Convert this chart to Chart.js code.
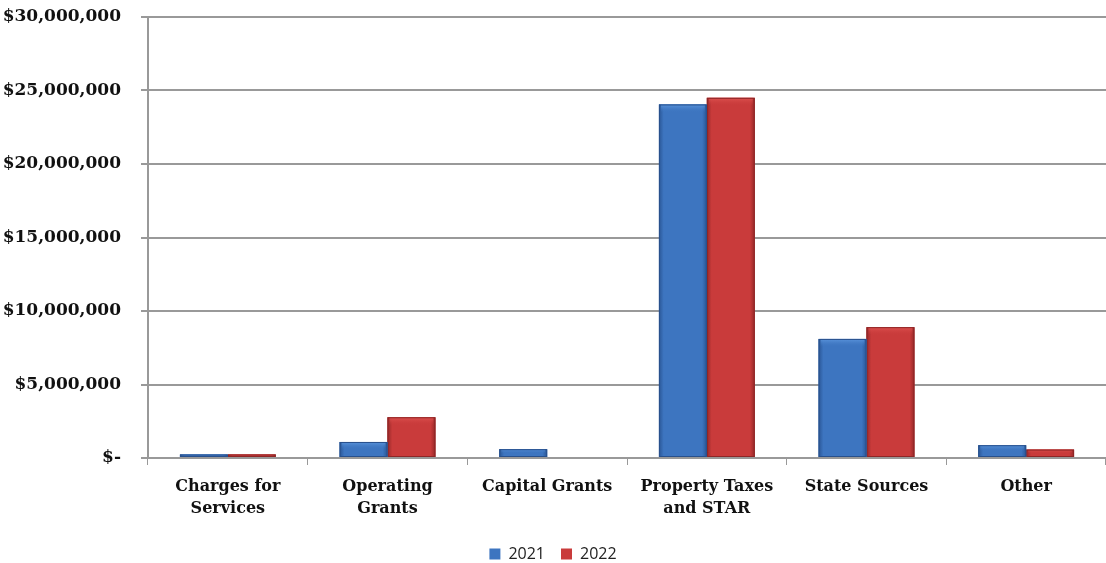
<!DOCTYPE html>
<html>
<head>
<meta charset="utf-8">
<script src="https://cdn.jsdelivr.net/npm/chart.js@4.4.1/dist/chart.umd.min.js"></script>
<style>
  html, body { margin: 0; padding: 0; background: #fff; }
  #wrap { width: 1106px; height: 563px; }
</style>
</head>
<body>
<div id="wrap"><canvas id="revChart"></canvas></div>
<script>
// Revenue by source, 2021 vs 2022
const categories = [
  ['Charges for', 'Services'],
  ['Operating', 'Grants'],
  'Capital Grants',
  ['Property Taxes', 'and STAR'],
  'State Sources',
  'Other'
];
const series2021 = [240000, 1090000, 600000, 24050000, 8100000, 870000];
const series2022 = [240000, 2770000, 0, 24500000, 8900000, 570000];
const yTicks = [0, 5000000, 10000000, 15000000, 20000000, 25000000, 30000000];

const shades = [
  { light: '#5b95dc', mid: '#3d75c0', dark: '#2a5696', edge: '#28508c' },
  { light: '#de5250', mid: '#c93b3b', dark: '#962828', edge: '#8e2626' }
];

function money(v) {
  if (v === 0) return '$-';
  return '$' + v.toLocaleString('en-US');
}

// repaint each bar the library laid out with a bevel-like gradient
const bevelBars = {
  id: 'bevelBars',
  afterDatasetDraw(chart, args) {
    const c = chart.ctx;
    const s = shades[args.index];
    const area = chart.chartArea;
    c.save();
    c.beginPath();
    c.rect(area.left, area.top, area.right - area.left, area.bottom - area.top);
    c.clip();
    args.meta.data.forEach(el => {
      const p = el.getProps(['x', 'y', 'base', 'width'], true);
      const h = p.base - p.y;
      if (h < 0.5) return;
      const x0 = p.x - p.width / 2;
      const g = c.createLinearGradient(x0, 0, x0 + p.width, 0);
      g.addColorStop(0, s.dark);
      g.addColorStop(0.1, s.mid);
      g.addColorStop(0.5, s.mid);
      g.addColorStop(0.9, s.mid);
      g.addColorStop(1, s.dark);
      c.fillStyle = g;
      c.fillRect(x0, p.y, p.width, h);
      // lighter top band
      const t = Math.min(8, h * 0.5);
      const gt = c.createLinearGradient(0, p.y, 0, p.y + t);
      gt.addColorStop(0, s.light);
      gt.addColorStop(1, s.mid + '00');
      c.fillStyle = gt;
      c.fillRect(x0 + 2, p.y, p.width - 4, t);
      c.strokeStyle = s.edge;
      c.lineWidth = 1;
      c.strokeRect(x0 + 0.5, p.y + 0.5, p.width - 1, h - 1);
    });
    c.restore();
  }
};

// legend sits lower in the original, so fix the box it reserves
const lowLegend = {
  id: 'lowLegend',
  afterInit(chart) {
    const lg = chart.legend;
    if (!lg) return;
    const fit = lg.fit;
    lg.fit = function () {
      fit.call(this);
      this.height = 33;
    };
  }
};

new Chart(document.getElementById('revChart'), {
  type: 'bar',
  data: {
    labels: categories,
    datasets: [{
      label: '2021',
      data: series2021,
      backgroundColor: '#3d75c0',
      borderWidth: 0,
      categoryPercentage: 0.6,
      barPercentage: 1.0
    }, {
      label: '2022',
      data: series2022,
      backgroundColor: '#c93b3b',
      borderWidth: 0,
      categoryPercentage: 0.6,
      barPercentage: 1.0
    }]
  },
  options: {
    responsive: true,
    maintainAspectRatio: false,
    animation: false,
    layout: { padding: { top: 0, right: 0, bottom: 0, left: 0 } },
    plugins: {
      tooltip: { enabled: false },
      legend: {
        position: 'bottom',
        labels: {
          font: { family: 'Open Sans', size: 16 },
          color: '#222',
          boxWidth: 11,
          boxHeight: 11,
          padding: 16
        }
      }
    },
    scales: {
      x: {
        afterFit: s => { s.height = 72; },
        grid: {
          offset: true,
          drawOnChartArea: false,
          drawTicks: true,
          tickLength: 7,
          color: '#999'
        },
        border: { color: '#999', width: 2 },
        ticks: {
          font: { family: 'DejaVu Serif', weight: 'bold', size: 16, lineHeight: 1.35 },
          color: '#111',
          maxRotation: 0,
          autoSkip: false,
          padding: 11
        }
      },
      y: {
        min: 0,
        max: 30000000,
        afterFit: s => { s.width = 148; s.paddingTop = 17; },
        afterBuildTicks: s => { s.ticks = yTicks.map(v => ({ value: v })); },
        grid: {
          color: '#999',
          lineWidth: 2,
          tickLength: 7
        },
        border: { color: '#999', width: 2 },
        ticks: {
          font: { family: 'DejaVu Serif', weight: 'bold', size: 17 },
          color: '#111',
          padding: 20,
          callback: v => money(v)
        }
      }
    }
  },
  plugins: [bevelBars, lowLegend]
});
</script>
</body>
</html>
